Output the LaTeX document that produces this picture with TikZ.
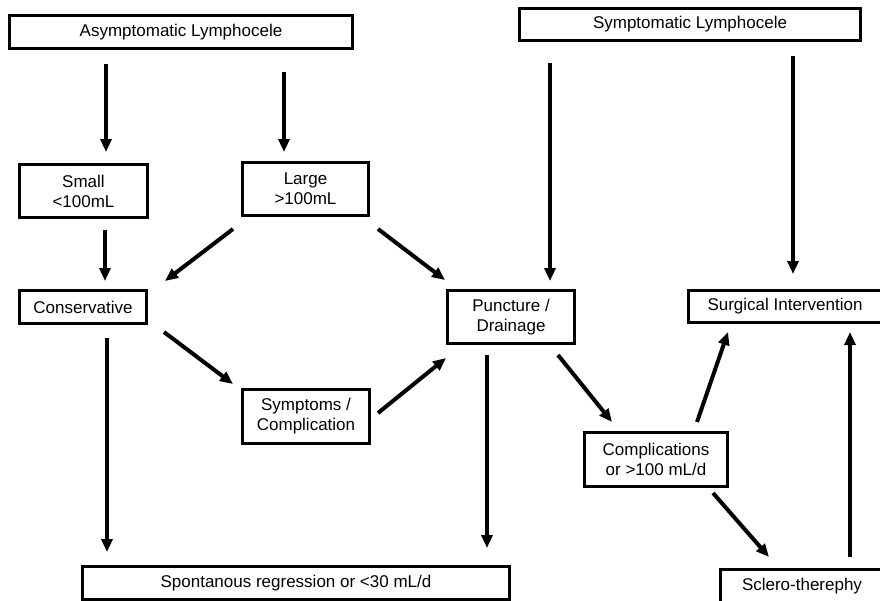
\documentclass[tikz,border=0pt]{standalone}
\usepackage{fontspec}
\setmainfont{Liberation Sans}
\usetikzlibrary{arrows.meta}
\begin{document}
\begin{tikzpicture}[x=1pt,y=-1pt,
  box/.style={draw=black,line width=3pt,fill=white,inner sep=0pt,outer sep=0pt,align=center,
    font=\fontsize{17}{20}\selectfont},
  arr/.style={line width=4pt,-{Triangle[length=13pt,width=11pt]}}]
\useasboundingbox (0,0) rectangle (880,600);
\clip (0,0) rectangle (880,600);
\fill[white] (0,0) rectangle (880,600);
\node[box,minimum width=343pt,minimum height=33pt] (asym) at (181,32) {Asymptomatic Lymphocele};
\node[box,minimum width=341pt,minimum height=32pt] (sym) at (690,24.5) {Symptomatic Lymphocele};
\node[box,minimum width=128pt,minimum height=53pt] (small) at (83.5,191) {Small\\<100mL};
\node[box,minimum width=126pt,minimum height=53pt] (large) at (305.5,189) {Large\\>100mL};
\node[box,minimum width=127pt,minimum height=33pt] (cons) at (83,307) {Conservative};
\node[box,minimum width=127pt,minimum height=53pt] (punct) at (511,317) {Puncture /\\Drainage};
\node[box,minimum width=193pt,minimum height=32pt] (surg) at (785,306.5) {Surgical Intervention};
\node[box,minimum width=127pt,minimum height=54pt] (symp) at (306,416.5) {Symptoms /\\Complication};
\node[box,minimum width=143pt,minimum height=54pt] (compl) at (656,459.5) {Complications\\or >100 mL/d};
\node[box,minimum width=427pt,minimum height=33pt] (spont) at (296,583) {Spontanous regression or <30 mL/d};
\node[box,minimum width=163pt,minimum height=33pt] (sclero) at (802,586) {Sclero-therephy};
\draw[arr] ([shift={(96.5,15.5)}]asym.south west) -- ([shift={(86.5,-12.5)}]small.north west);
\draw[arr] ([shift={(274.5,23.5)}]asym.south west) -- ([shift={(41.5,-10.5)}]large.north west);
\draw[arr] ([shift={(85.5,12.5)}]small.south west) -- ([shift={(85.5,-9.5)}]cons.north west);
\draw[arr] ([shift={(-9.5,13.5)}]large.south west) -- ([shift={(18.5,-9.5)}]cons.north east);
\draw[arr] ([shift={(9.5,13.5)}]large.south east) -- ([shift={(-2.5,-10.5)}]punct.north west);
\draw[arr] ([shift={(30.5,22.5)}]sym.south west) -- ([shift={(102.5,-9.5)}]punct.north west);
\draw[arr] ([shift={(273.5,15.5)}]sym.south west) -- ([shift={(104.5,-16.5)}]surg.north west);
\draw[arr] ([shift={(87.5,14.5)}]cons.south west) -- ([shift={(24.5,-14.5)}]spont.north west);
\draw[arr] ([shift={(17.5,8.5)}]cons.south east) -- ([shift={(-9.5,-5.5)}]symp.north west);
\draw[arr] ([shift={(8.5,23.5)}]symp.north east) -- ([shift={(-1.5,14.5)}]punct.south west);
\draw[arr] ([shift={(39.5,11.5)}]punct.south west) -- ([shift={(-22.5,-18.5)}]spont.north east);
\draw[arr] ([shift={(-16.5,11.5)}]punct.south east) -- ([shift={(27.5,-10.5)}]compl.north west);
\draw[arr] ([shift={(-30.5,-10.5)}]compl.north east) -- ([shift={(39.5,9.5)}]surg.south west);
\draw[arr] ([shift={(-14.5,6.5)}]compl.south east) -- ([shift={(48.5,-12.5)}]sclero.north west);
\draw[arr] ([shift={(129.5,-12.5)}]sclero.north west) -- ([shift={(161.5,9.5)}]surg.south west);
\end{tikzpicture}
\end{document}
